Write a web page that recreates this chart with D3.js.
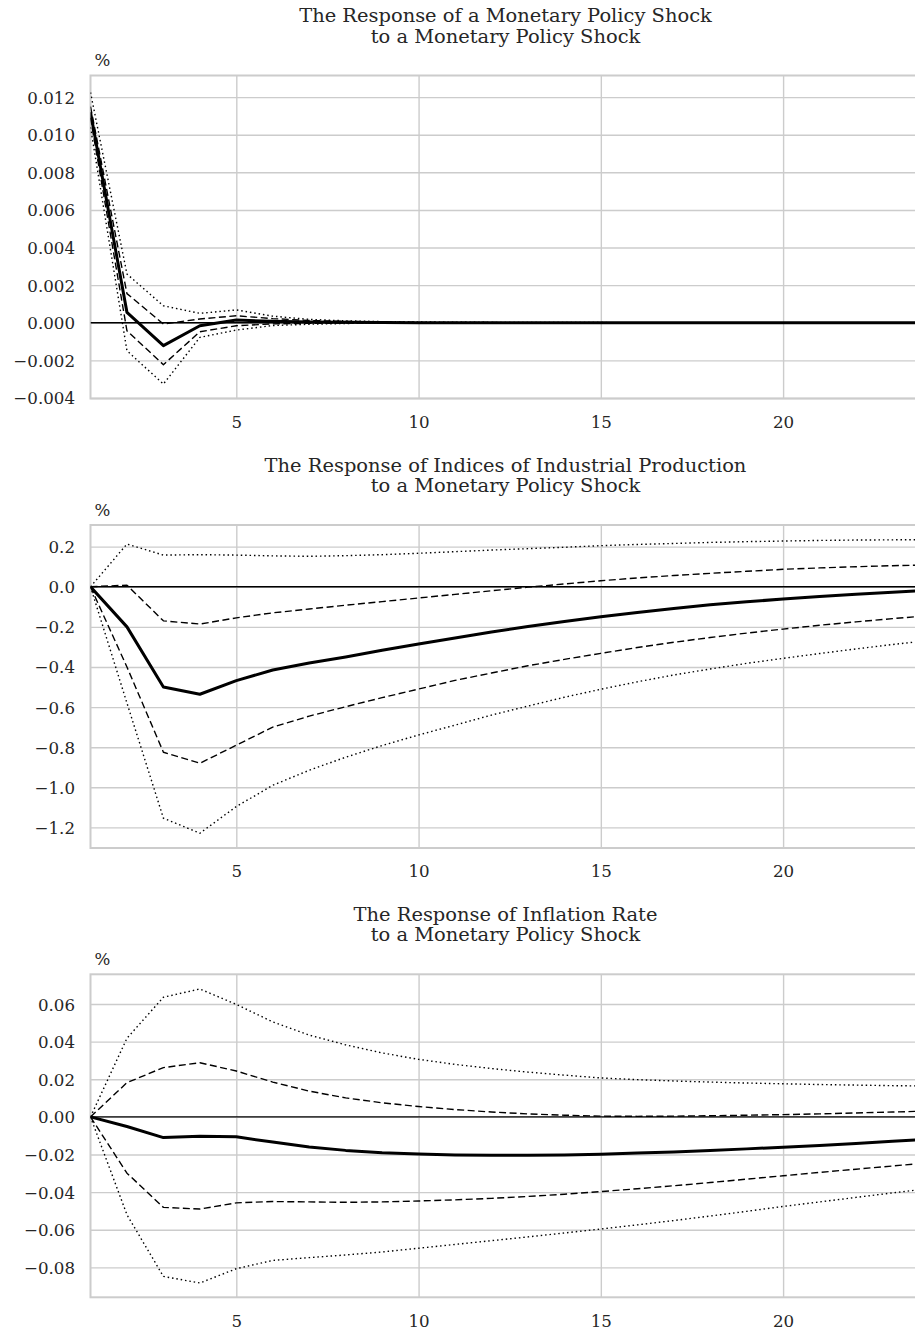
<!DOCTYPE html>
<html>
<head>
<meta charset="utf-8">
<script src="https://cdn.jsdelivr.net/npm/d3@7"></script>
<style>
  html, body { margin: 0; padding: 0; background: #fff; overflow: hidden; }
  svg { display: block; }
  text { font-family: "DejaVu Serif", serif; fill: #262626; }
</style>
</head>
<body>
<script>
// Horizons (periods)
const periods = d3.range(1, 25);

// Panel 1: monetary policy shock -> monetary policy
const mpMean    = [0.0112, 0.00055, -0.00122, -0.00016, 0.00014, 0.00008, 0.00004, 0.00002, 0.00001, 0, 0, 0, 0, 0, 0, 0, 0, 0, 0, 0, 0, 0, 0, 0];
const mpUpper68 = [0.0115, 0.00155, -0.00007, 0.0002, 0.00037, 0.00022, 0.00012, 0.00007, 0.00004, 0.00002, 0.00001, 0.00001, 0, 0, 0, 0, 0, 0, 0, 0, 0, 0, 0, 0];
const mpLower68 = [0.0109, -0.00043, -0.00223, -0.00048, -0.00016, -0.00006, -0.00003, -0.00002, -0.00001, 0, 0, 0, 0, 0, 0, 0, 0, 0, 0, 0, 0, 0, 0, 0];
const mpUpper95 = [0.01225, 0.00259, 0.0009, 0.0005, 0.00068, 0.00035, 0.00018, 0.0001, 0.00006, 0.00004, 0.00003, 0.00002, 0.00001, 0.00001, 0.00001, 0, 0, 0, 0, 0, 0, 0, 0, 0];
const mpLower95 = [0.0104, -0.00149, -0.00326, -0.00078, -0.00039, -0.00015, -0.00008, -0.00004, -0.00002, -0.00001, 0, 0, 0, 0, 0, 0, 0, 0, 0, 0, 0, 0, 0, 0];

// Panel 2: industrial production
const ipMean    = [0, -0.20, -0.50, -0.536, -0.468, -0.415, -0.38, -0.35, -0.317, -0.285, -0.255, -0.226, -0.198, -0.173, -0.150, -0.128, -0.108, -0.090, -0.075, -0.061, -0.048, -0.037, -0.027, -0.017];
const ipUpper68 = [0, 0.008, -0.17, -0.186, -0.155, -0.13, -0.111, -0.092, -0.074, -0.056, -0.038, -0.020, -0.002, 0.014, 0.030, 0.044, 0.056, 0.067, 0.077, 0.087, 0.094, 0.100, 0.105, 0.109];
const ipLower68 = [0, -0.40, -0.825, -0.88, -0.79, -0.70, -0.645, -0.598, -0.553, -0.51, -0.467, -0.43, -0.394, -0.362, -0.332, -0.303, -0.277, -0.253, -0.231, -0.211, -0.192, -0.175, -0.159, -0.144];
const ipUpper95 = [0, 0.213, 0.158, 0.16, 0.158, 0.154, 0.152, 0.155, 0.16, 0.167, 0.175, 0.183, 0.19, 0.197, 0.205, 0.211, 0.216, 0.221, 0.225, 0.228, 0.231, 0.233, 0.234, 0.235];
const ipLower95 = [0, -0.58, -1.154, -1.229, -1.096, -0.99, -0.915, -0.85, -0.792, -0.739, -0.69, -0.64, -0.595, -0.551, -0.511, -0.474, -0.44, -0.41, -0.382, -0.357, -0.333, -0.31, -0.288, -0.268];

// Panel 3: inflation rate
const infMean    = [0, -0.0051, -0.011, -0.0103, -0.0106, -0.0134, -0.0160, -0.0178, -0.0190, -0.0197, -0.0202, -0.0204, -0.0204, -0.0202, -0.0198, -0.0192, -0.0186, -0.0178, -0.0170, -0.0161, -0.0152, -0.0141, -0.0130, -0.0119];
const infUpper68 = [0, 0.0182, 0.0262, 0.0288, 0.0244, 0.0185, 0.0137, 0.0101, 0.0075, 0.0055, 0.0039, 0.0026, 0.0016, 0.0009, 0.0004, 0.0003, 0.0004, 0.0006, 0.0009, 0.0012, 0.0016, 0.0021, 0.0026, 0.0031];
const infLower68 = [0, -0.0299, -0.0481, -0.049, -0.0457, -0.045, -0.0452, -0.0454, -0.0452, -0.0447, -0.0441, -0.0433, -0.0423, -0.0411, -0.0397, -0.0382, -0.0366, -0.0349, -0.0331, -0.0313, -0.0295, -0.0278, -0.0261, -0.0244];
const infUpper95 = [0, 0.0418, 0.0636, 0.068, 0.0598, 0.0505, 0.0435, 0.0383, 0.0340, 0.0306, 0.0279, 0.0257, 0.0238, 0.0222, 0.0207, 0.0198, 0.0191, 0.0185, 0.0180, 0.0176, 0.0172, 0.0169, 0.0166, 0.0164];
const infLower95 = [0, -0.052, -0.0848, -0.0883, -0.0807, -0.0763, -0.0748, -0.0734, -0.0718, -0.0698, -0.0678, -0.0658, -0.0638, -0.0617, -0.0596, -0.0574, -0.0551, -0.0527, -0.0502, -0.0476, -0.0452, -0.0428, -0.0404, -0.0381];

// Tick values / labels
const xTicks = [5, 10, 15, 20];
const mpTicks  = [-0.004, -0.002, 0.000, 0.002, 0.004, 0.006, 0.008, 0.010, 0.012];
const ipTicks  = [-1.2, -1.0, -0.8, -0.6, -0.4, -0.2, 0.0, 0.2];
const infTicks = [-0.08, -0.06, -0.04, -0.02, 0.00, 0.02, 0.04, 0.06];

const titles = [
  ["The Response of a Monetary Policy Shock", "to a Monetary Policy Shock"],
  ["The Response of Indices of Industrial Production", "to a Monetary Policy Shock"],
  ["The Response of Inflation Rate", "to a Monetary Policy Shock"]
];
const unitLabel = "%";

const panels = [
  { title: titles[0], ticks: mpTicks, fmt: ".3f", domain: [-0.00403, 0.01315], top: 75.5,
    mean: mpMean, u68: mpUpper68, l68: mpLower68, u95: mpUpper95, l95: mpLower95 },
  { title: titles[1], ticks: ipTicks, fmt: ".1f", domain: [-1.3027, 0.308], top: 525,
    mean: ipMean, u68: ipUpper68, l68: ipLower68, u95: ipUpper95, l95: ipLower95 },
  { title: titles[2], ticks: infTicks, fmt: ".2f", domain: [-0.0959, 0.0758], top: 974.3,
    mean: infMean, u68: infUpper68, l68: infLower68, u95: infUpper95, l95: infLower95 }
];

const W = 915, H = 1331;
const left = 90.5, right = 928.9, plotH = 323;
const titleX = 505.5;
const TFS = "19.44px";   // title font
const FS = "16.67px";    // tick / unit font

const svg = d3.select("body").append("svg").attr("width", W).attr("height", H);

const x = d3.scaleLinear().domain([1, 24]).range([left, right]);
const minus = s => s.replace("-", "\u2212");

panels.forEach(p => {
  const top = p.top, bottom = top + plotH;
  const y = d3.scaleLinear().domain(p.domain).range([bottom, top]);
  const g = svg.append("g");

  const cid = "clip" + Math.round(top);
  svg.append("clipPath").attr("id", cid).append("rect")
    .attr("x", left).attr("y", top).attr("width", right - left).attr("height", plotH);

  g.append("text").attr("x", titleX).attr("y", top - 53.5).attr("text-anchor", "middle")
    .style("font-size", TFS).text(p.title[0]);
  g.append("text").attr("x", titleX).attr("y", top - 33).attr("text-anchor", "middle")
    .style("font-size", TFS).text(p.title[1]);
  g.append("text").attr("x", 94.5).attr("y", top - 9.5).style("font-size", FS).text(unitLabel);

  const yAxis = d3.axisLeft(y).tickValues(p.ticks)
    .tickSize(-(right - left)).tickPadding(15.5)
    .tickFormat(d => minus(d3.format(p.fmt)(d)));
  const ya = g.append("g").attr("transform", `translate(${left},0)`).call(yAxis);
  ya.select(".domain").remove();
  ya.selectAll(".tick line").attr("stroke", "#cccccc").attr("stroke-width", 1.4);
  ya.selectAll(".tick text").style("font-size", FS).attr("fill", "#262626")
    .attr("font-family", "DejaVu Serif").attr("dy", "0.36em");

  const xAxis = d3.axisBottom(x).tickValues(xTicks).tickSize(-plotH).tickPadding(17.5)
    .tickFormat(d3.format("d"));
  const xa = g.append("g").attr("transform", `translate(0,${bottom})`).call(xAxis);
  xa.select(".domain").remove();
  xa.selectAll(".tick line").attr("stroke", "#cccccc").attr("stroke-width", 1.4);
  xa.selectAll(".tick text").style("font-size", FS).attr("fill", "#262626")
    .attr("font-family", "DejaVu Serif");

  g.append("rect").attr("x", left).attr("y", top).attr("width", right - left).attr("height", plotH)
    .attr("fill", "none").attr("stroke", "#cccccc").attr("stroke-width", 2);

  const lg = g.append("g").attr("clip-path", `url(#${cid})`);
  lg.append("line").attr("x1", left).attr("x2", right).attr("y1", y(0)).attr("y2", y(0))
    .attr("stroke", "#000").attr("stroke-width", 1.4);

  const line = d3.line().x((d, i) => x(periods[i])).y(d => y(d));
  const draw = (data, w, dash) => lg.append("path").datum(data).attr("d", line)
    .attr("fill", "none").attr("stroke", "#000").attr("stroke-width", w)
    .attr("stroke-dasharray", dash).attr("stroke-linejoin", "round");

  draw(p.u95, 1.4, "1.5,2.9");
  draw(p.l95, 1.4, "1.5,2.9");
  draw(p.u68, 1.4, "7,3.5");
  draw(p.l68, 1.4, "7,3.5");
  draw(p.mean, 3, null);
});
</script>
</body>
</html>
